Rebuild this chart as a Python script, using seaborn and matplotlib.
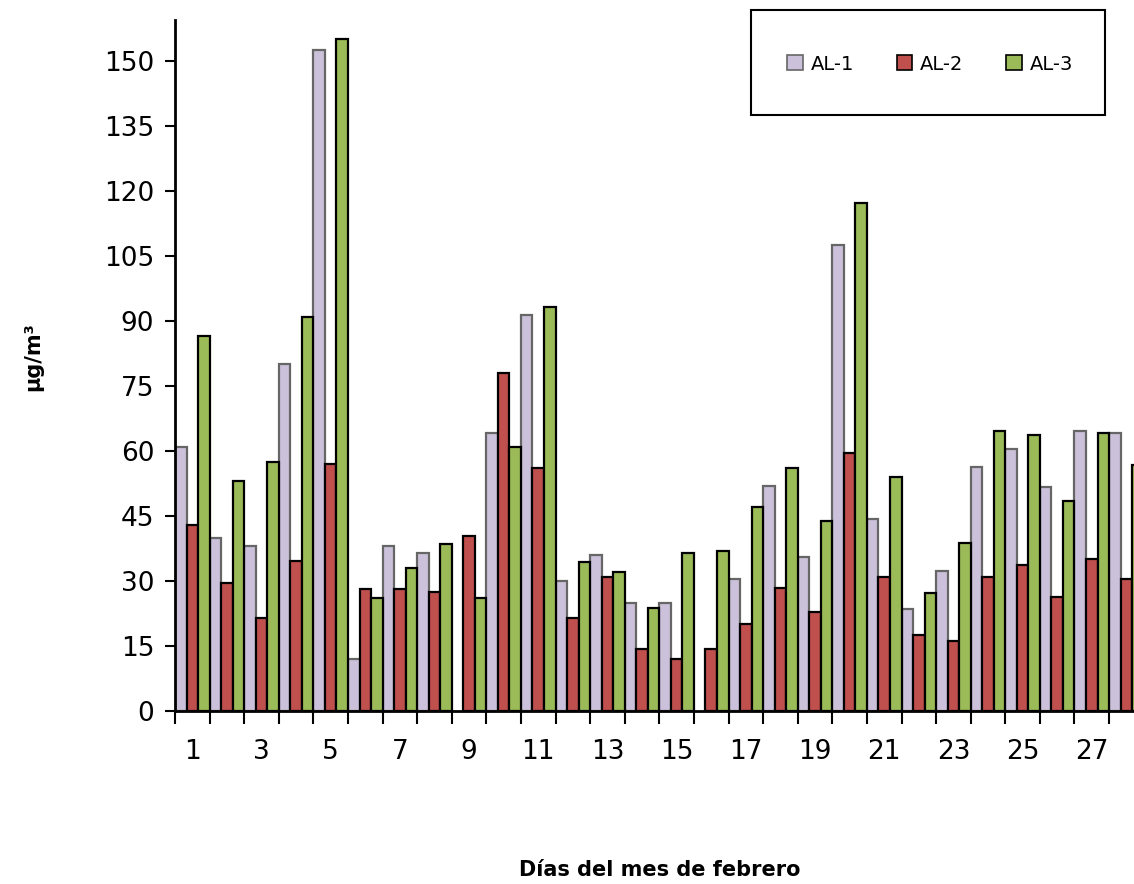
import numpy as np
import pandas as pd
import seaborn as sns
import matplotlib
matplotlib.use("Agg")
import matplotlib.pyplot as plt
from matplotlib.patches import Rectangle, Patch

days = list(range(1, 29))
al1 = [61, 40, 38, 80, 152.5, 12, 38, 36.5, np.nan, 64.2, 91.3, 30, 36, 25, 25, np.nan,
       30.5, 52, 35.5, 107.5, 44.3, 23.6, 32.3, 56.3, 60.5, 51.8, 64.6, 64.2]
al2 = [43, 29.5, 21.5, 34.7, 57, 28.2, 28.2, 27.4, 40.3, 78, 56, 21.5, 31, 14.4, 12, 14.4,
       20, 28.3, 22.8, 59.5, 31, 17.5, 16.2, 31, 33.8, 26.3, 35.2, 30.5]
al3 = [86.5, 53, 57.5, 91, 155, 26, 33, 38.5, 26, 61, 93.2, 34.3, 32, 23.7, 36.5, 37,
       47, 56, 43.8, 117.3, 54, 27.3, 38.8, 64.6, 63.6, 48.5, 64.2, 56.7]
series = ["AL-1", "AL-2", "AL-3"]
colors = ["#CCC1DA", "#C0504D", "#9BBB59"]
edges = ["#666666", "#000000", "#000000"]
yticks = list(range(0, 151, 15))

df = pd.DataFrame({
    "day": [str(d) for d in days] * 3,
    "value": al1 + al2 + al3,
    "series": [s for s in series for _ in days],
})

sns.set_style("white")
plt.rcParams["font.family"] = ["DejaVu Sans"]
plt.rcParams["text.color"] = "black"
plt.rcParams["xtick.color"] = "black"
plt.rcParams["ytick.color"] = "black"
plt.rcParams["axes.labelcolor"] = "black"

fig = plt.figure(figsize=(11.34, 8.84), dpi=100)
ax = fig.add_axes([175 / 1134, 1 - 711 / 884, 1 - 175 / 1134, (711 - 20) / 884])

sns.barplot(data=df, x="day", y="value", hue="series", hue_order=series,
            order=[str(d) for d in days], palette=colors, width=1.0,
            dodge=True, ax=ax, legend=False, saturation=1, linewidth=1.6)
for cont, ec in zip(ax.containers, edges):
    for bar in cont:
        bar.set_edgecolor(ec)

ax.set_ylim(0, 159.5)
ax.set_xlim(-0.5, 27.22)
ax.set_yticks(yticks)
ax.set_yticklabels([str(v) for v in yticks], fontsize=19, color="black")
ax.tick_params(axis="y", direction="out", length=7, width=1.5, pad=8, left=True,
               colors="black")

ax.set_xticks([i - 0.5 for i in range(28)])
ax.set_xticklabels([])
ax.tick_params(axis="x", which="major", direction="out", length=9, width=1.5, bottom=True,
               colors="black")
ax.set_xticks([i for i in range(0, 28, 2)], minor=True)
ax.set_xticklabels([str(d) for d in days[::2]], minor=True, fontsize=19, color="black")
ax.tick_params(axis="x", which="minor", length=0, pad=20, labelcolor="black")

for s in ["top", "right"]:
    ax.spines[s].set_visible(False)
for s in ["left", "bottom"]:
    ax.spines[s].set_color("black")
    ax.spines[s].set_linewidth(2)

ax.set_xlabel("")
ax.set_ylabel("")
fig.text(660 / 1134, 1 - 870 / 884, "Días del mes de febrero", ha="center", va="center",
         fontsize=15, fontweight="bold", color="black")
fig.text(33 / 1134, 1 - 357 / 884, "µg/m³", ha="center", va="center",
         rotation=90, fontsize=15, fontweight="bold", color="black")

fig.patches.append(Rectangle((751 / 1134, 1 - 115 / 884), (1105 - 751) / 1134, 105 / 884,
                             transform=fig.transFigure, fill=False, edgecolor="black",
                             linewidth=1.5))
handles = [Patch(facecolor=c, edgecolor=e, linewidth=1.2) for c, e in zip(colors, edges)]
fig.legend(handles, series, loc="center", bbox_to_anchor=(930 / 1134, 1 - 64 / 884),
           ncol=3, frameon=False, fontsize=14, handlelength=0.8, handleheight=0.8,
           handletextpad=0.4, columnspacing=2.2, labelcolor="black")

fig.savefig("out.png", dpi=100)
